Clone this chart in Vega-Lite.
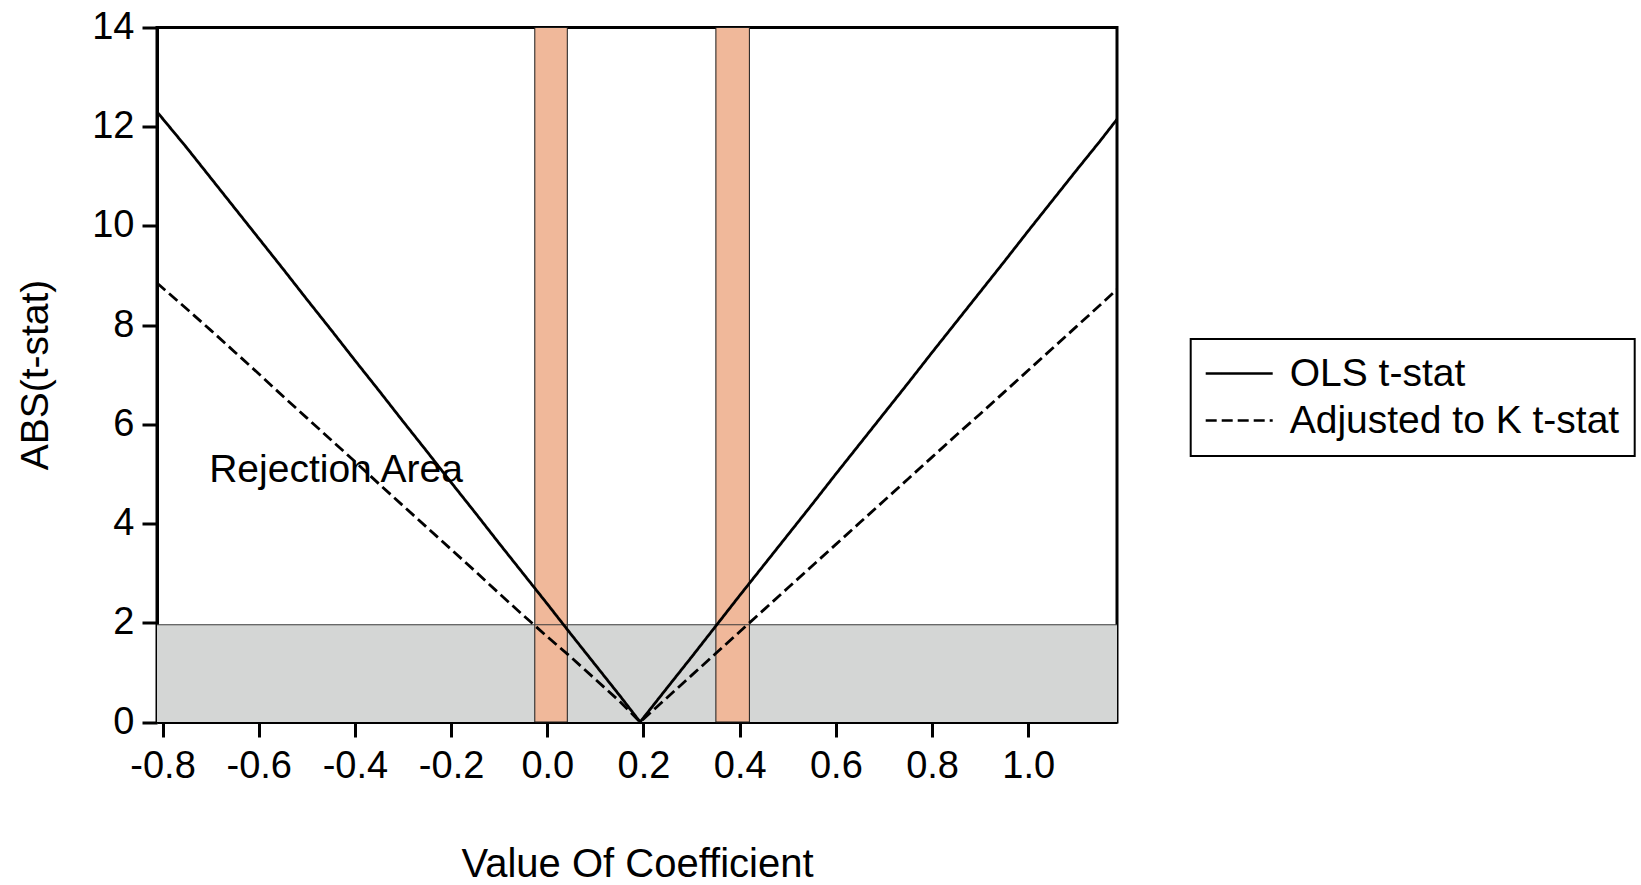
{
  "$schema": "https://vega.github.io/schema/vega-lite/v6.json",
  "width": 960,
  "height": 694.5,
  "autosize": {"type": "none"},
  "padding": {"left": 157, "top": 27.5, "right": 524, "bottom": 163},
  "background": "white",
  "config": {
    "font": "Liberation Sans",
    "view": {"stroke": "black", "strokeWidth": 3},
    "axis": {
      "grid": false,
      "domainColor": "black",
      "domainWidth": 3,
      "tickColor": "black",
      "tickWidth": 3,
      "tickSize": 15,
      "labelColor": "black",
      "labelFont": "Liberation Sans",
      "labelFontSize": 38,
      "titleColor": "black",
      "titleFont": "Liberation Sans",
      "titleFontSize": 39,
      "titleFontWeight": "normal",
      "labelFlush": false,
      "labelOverlap": false
    },
    "legend": {
      "labelFont": "Liberation Sans",
      "labelFontSize": 39,
      "labelColor": "black"
    }
  },
  "datasets": {
    "lines": [
      {"x": -0.8115, "t": 12.30, "series": "OLS t-stat"},
      {"x": -0.75, "t": 11.58, "series": "OLS t-stat"},
      {"x": -0.70, "t": 10.97, "series": "OLS t-stat"},
      {"x": -0.65, "t": 10.36, "series": "OLS t-stat"},
      {"x": -0.60, "t": 9.75, "series": "OLS t-stat"},
      {"x": -0.55, "t": 9.14, "series": "OLS t-stat"},
      {"x": -0.50, "t": 8.52, "series": "OLS t-stat"},
      {"x": -0.45, "t": 7.91, "series": "OLS t-stat"},
      {"x": -0.40, "t": 7.29, "series": "OLS t-stat"},
      {"x": -0.35, "t": 6.68, "series": "OLS t-stat"},
      {"x": -0.30, "t": 6.06, "series": "OLS t-stat"},
      {"x": -0.25, "t": 5.45, "series": "OLS t-stat"},
      {"x": -0.20, "t": 4.83, "series": "OLS t-stat"},
      {"x": -0.15, "t": 4.22, "series": "OLS t-stat"},
      {"x": -0.10, "t": 3.60, "series": "OLS t-stat"},
      {"x": -0.05, "t": 2.99, "series": "OLS t-stat"},
      {"x": 0.00, "t": 2.38, "series": "OLS t-stat"},
      {"x": 0.05, "t": 1.76, "series": "OLS t-stat"},
      {"x": 0.10, "t": 1.15, "series": "OLS t-stat"},
      {"x": 0.15, "t": 0.54, "series": "OLS t-stat"},
      {"x": 0.193, "t": 0.0, "series": "OLS t-stat"},
      {"x": 0.25, "t": 0.70, "series": "OLS t-stat"},
      {"x": 0.30, "t": 1.31, "series": "OLS t-stat"},
      {"x": 0.35, "t": 1.93, "series": "OLS t-stat"},
      {"x": 0.40, "t": 2.55, "series": "OLS t-stat"},
      {"x": 0.45, "t": 3.16, "series": "OLS t-stat"},
      {"x": 0.50, "t": 3.77, "series": "OLS t-stat"},
      {"x": 0.55, "t": 4.38, "series": "OLS t-stat"},
      {"x": 0.60, "t": 5.00, "series": "OLS t-stat"},
      {"x": 0.65, "t": 5.61, "series": "OLS t-stat"},
      {"x": 0.70, "t": 6.22, "series": "OLS t-stat"},
      {"x": 0.75, "t": 6.83, "series": "OLS t-stat"},
      {"x": 0.80, "t": 7.45, "series": "OLS t-stat"},
      {"x": 0.85, "t": 8.06, "series": "OLS t-stat"},
      {"x": 0.90, "t": 8.67, "series": "OLS t-stat"},
      {"x": 0.95, "t": 9.28, "series": "OLS t-stat"},
      {"x": 1.00, "t": 9.90, "series": "OLS t-stat"},
      {"x": 1.05, "t": 10.51, "series": "OLS t-stat"},
      {"x": 1.10, "t": 11.12, "series": "OLS t-stat"},
      {"x": 1.15, "t": 11.72, "series": "OLS t-stat"},
      {"x": 1.1845, "t": 12.15, "series": "OLS t-stat"},
      {"x": -0.8115, "t": 8.85, "series": "Adjusted to K t-stat"},
      {"x": -0.75, "t": 8.33, "series": "Adjusted to K t-stat"},
      {"x": -0.70, "t": 7.90, "series": "Adjusted to K t-stat"},
      {"x": -0.65, "t": 7.46, "series": "Adjusted to K t-stat"},
      {"x": -0.60, "t": 7.02, "series": "Adjusted to K t-stat"},
      {"x": -0.55, "t": 6.57, "series": "Adjusted to K t-stat"},
      {"x": -0.50, "t": 6.13, "series": "Adjusted to K t-stat"},
      {"x": -0.45, "t": 5.69, "series": "Adjusted to K t-stat"},
      {"x": -0.40, "t": 5.25, "series": "Adjusted to K t-stat"},
      {"x": -0.35, "t": 4.80, "series": "Adjusted to K t-stat"},
      {"x": -0.30, "t": 4.36, "series": "Adjusted to K t-stat"},
      {"x": -0.25, "t": 3.92, "series": "Adjusted to K t-stat"},
      {"x": -0.20, "t": 3.48, "series": "Adjusted to K t-stat"},
      {"x": -0.15, "t": 3.04, "series": "Adjusted to K t-stat"},
      {"x": -0.10, "t": 2.59, "series": "Adjusted to K t-stat"},
      {"x": -0.05, "t": 2.15, "series": "Adjusted to K t-stat"},
      {"x": 0.00, "t": 1.72, "series": "Adjusted to K t-stat"},
      {"x": 0.05, "t": 1.30, "series": "Adjusted to K t-stat"},
      {"x": 0.10, "t": 0.86, "series": "Adjusted to K t-stat"},
      {"x": 0.15, "t": 0.42, "series": "Adjusted to K t-stat"},
      {"x": 0.193, "t": 0.0, "series": "Adjusted to K t-stat"},
      {"x": 0.25, "t": 0.50, "series": "Adjusted to K t-stat"},
      {"x": 0.30, "t": 0.94, "series": "Adjusted to K t-stat"},
      {"x": 0.35, "t": 1.38, "series": "Adjusted to K t-stat"},
      {"x": 0.40, "t": 1.82, "series": "Adjusted to K t-stat"},
      {"x": 0.45, "t": 2.26, "series": "Adjusted to K t-stat"},
      {"x": 0.50, "t": 2.70, "series": "Adjusted to K t-stat"},
      {"x": 0.55, "t": 3.14, "series": "Adjusted to K t-stat"},
      {"x": 0.60, "t": 3.58, "series": "Adjusted to K t-stat"},
      {"x": 0.65, "t": 4.02, "series": "Adjusted to K t-stat"},
      {"x": 0.70, "t": 4.46, "series": "Adjusted to K t-stat"},
      {"x": 0.75, "t": 4.90, "series": "Adjusted to K t-stat"},
      {"x": 0.80, "t": 5.34, "series": "Adjusted to K t-stat"},
      {"x": 0.85, "t": 5.78, "series": "Adjusted to K t-stat"},
      {"x": 0.90, "t": 6.21, "series": "Adjusted to K t-stat"},
      {"x": 0.95, "t": 6.65, "series": "Adjusted to K t-stat"},
      {"x": 1.00, "t": 7.09, "series": "Adjusted to K t-stat"},
      {"x": 1.05, "t": 7.53, "series": "Adjusted to K t-stat"},
      {"x": 1.10, "t": 7.97, "series": "Adjusted to K t-stat"},
      {"x": 1.15, "t": 8.41, "series": "Adjusted to K t-stat"},
      {"x": 1.1845, "t": 8.72, "series": "Adjusted to K t-stat"}
    ],
    "grey": [{"x1": -0.8115, "x2": 1.1845, "lo": 0, "hi": 1.96}],
    "bands": [
      {"lo": -0.026, "hi": 0.0416, "ylo": 0, "yhi": 14},
      {"lo": 0.3505, "hi": 0.4202, "ylo": 0, "yhi": 14}
    ],
    "crit": [{"y": 1.96}],
    "label": [{"x": -0.703, "y": 4.845, "text": "Rejection Area"}]
  },
  "layer": [
    {
      "data": {"name": "grey"},
      "mark": {"type": "rect", "fill": "#d4d6d5", "strokeWidth": 0},
      "encoding": {
        "x": {"field": "x1", "type": "quantitative", "scale": {"domain": [-0.8115, 1.1845], "nice": false, "zero": false}, "title": "Value Of Coefficient"},
        "x2": {"field": "x2"},
        "y": {"field": "lo", "type": "quantitative", "scale": {"domain": [0, 14], "nice": false}, "title": "ABS(t-stat)"},
        "y2": {"field": "hi"}
      }
    },
    {
      "data": {"name": "bands"},
      "mark": {"type": "rect", "fill": "#f0b89a", "stroke": "#1a1a1a", "strokeWidth": 1},
      "encoding": {
        "x": {"field": "lo", "type": "quantitative", "title": "Value Of Coefficient"},
        "x2": {"field": "hi"},
        "y": {"field": "ylo", "type": "quantitative", "title": "ABS(t-stat)"},
        "y2": {"field": "yhi"}
      }
    },
    {
      "data": {"name": "crit"},
      "mark": {"type": "rule", "color": "#3a3a3a", "strokeWidth": 1.2},
      "encoding": {
        "y": {"field": "y", "type": "quantitative", "title": "ABS(t-stat)"}
      }
    },
    {
      "data": {"name": "lines"},
      "mark": {"type": "line", "color": "black", "strokeWidth": 2.8, "interpolate": "linear"},
      "encoding": {
        "x": {
          "field": "x", "type": "quantitative", "title": "Value Of Coefficient",
          "axis": {
            "values": [-0.8, -0.6, -0.4, -0.2, 0, 0.2, 0.4, 0.6, 0.8, 1.0],
            "labelExpr": "datum.value < -0.0001 ? '-' + format(-datum.value, '.1f') : format(datum.value, '.1f')",
            "labelPadding": 10,
            "titleFontSize": 40,
            "titleX": 480,
            "titleY": 142,
            "titleBaseline": "middle",
            "titleAlign": "center"
          }
        },
        "y": {
          "field": "t", "type": "quantitative", "title": "ABS(t-stat)",
          "axis": {
            "values": [0, 2, 4, 6, 8, 10, 12, 14],
            "format": "d",
            "labelPadding": 8,
            "titleAngle": -90,
            "titleX": -122,
            "titleY": 347,
            "titleBaseline": "middle",
            "titleAlign": "center"
          }
        },
        "strokeDash": {
          "field": "series", "type": "nominal",
          "scale": {"domain": ["OLS t-stat", "Adjusted to K t-stat"], "range": [[1, 0], [11, 5]]},
          "legend": {
            "title": null,
            "orient": "none",
            "legendX": 1033.7,
            "legendY": 311.5,
            "padding": 15,
            "strokeColor": "black",
            "fillColor": "white",
            "symbolType": "M-3.9,0H9.5",
            "symbolSize": 100,
            "symbolStrokeWidth": 2.5,
            "symbolStrokeColor": "black",
            "labelOffset": 45,
            "labelLimit": 800,
            "rowPadding": 7,
            "labelFontSize": 39,
            "encode": {"legend": {"update": {"strokeWidth": {"value": 2}}}}
          }
        },
        "detail": {"field": "series"}
      }
    },
    {
      "data": {"name": "label"},
      "mark": {"type": "text", "align": "left", "baseline": "alphabetic", "fontSize": 39, "font": "Liberation Sans", "color": "black"},
      "encoding": {
        "x": {"field": "x", "type": "quantitative", "title": "Value Of Coefficient"},
        "y": {"field": "y", "type": "quantitative", "title": "ABS(t-stat)"},
        "text": {"field": "text"}
      }
    }
  ]
}
